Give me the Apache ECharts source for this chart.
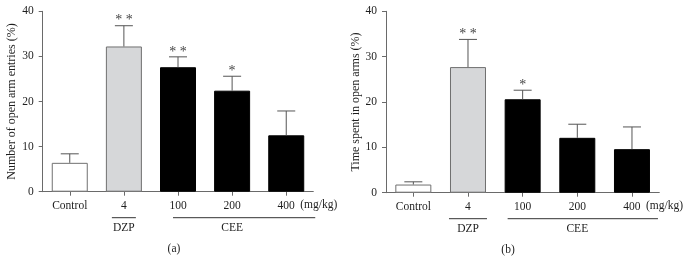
<!DOCTYPE html>
<html>
<head>
<meta charset="utf-8">
<script src="https://cdn.jsdelivr.net/npm/echarts@6/dist/echarts.min.js"></script>
<style>
  html, body { margin: 0; padding: 0; background: #fff; }
  #myChart { width: 687px; height: 258px; }
</style>
</head>
<body>
<div id="myChart"></div>
<script>
/*----------数据--------*/
var categories = ['Control', '4', '100', '200', '400'];
var yTicks = [0, 10, 20, 30, 40];
// (a) Number of open arm entries (%)
var entriesMean = [6.4, 32.2, 27.6, 22.4, 12.5];
var entriesErr = [2.0, 4.6, 2.3, 3.2, 5.4];
var entriesStars = ['', '**', '**', '*', ''];
// (b) Time spent in open arms (%)
var timeMean = [1.8, 27.7, 20.6, 12.1, 9.6];
var timeErr = [0.6, 6.1, 2.0, 3.0, 4.9];
var timeStars = ['', '**', '*', '', ''];
var barColors = ['#ffffff', '#d6d7d9', '#000000', '#000000', '#000000'];

var font = 'Liberation Serif';
var axisGray = '#6a6a6a';
var textColor = '#1e1e1e';

var myChart = echarts.init(document.getElementById('myChart'));

function barData(values) {
    return values.map(function (v, i) {
        return {
            value: v,
            itemStyle: {
                color: barColors[i],
                borderColor: i < 2 ? '#707070' : '#000',
                borderWidth: 1
            }
        };
    });
}

function errData(mean, err, stars) {
    return mean.map(function (m, i) {
        return [i, m, err[i], stars[i]];
    });
}

/* 误差线：只画上半部分，带横帽和星号 */
function renderErr(params, api) {
    var x = api.value(0);
    var m = api.value(1);
    var e = api.value(2);
    var idx = params.dataIndex;
    var base = api.coord([x, m]);
    var top = api.coord([x, m + e]);
    var stars = params.seriesIndex === 2 ? entriesStars : timeStars;
    var children = [
        { type: 'line', shape: { x1: base[0], y1: base[1], x2: top[0], y2: top[1] },
          style: { stroke: '#555', lineWidth: 1 } },
        { type: 'line', shape: { x1: top[0] - 9, y1: top[1], x2: top[0] + 9, y2: top[1] },
          style: { stroke: '#555', lineWidth: 1 } }
    ];
    if (stars[idx]) {
        children.push({
            type: 'text',
            style: {
                text: stars[idx].split('').join(' '),
                x: top[0], y: top[1] + 2,
                align: 'center', verticalAlign: 'bottom',
                font: '14px "' + font + '"', fill: '#444'
            }
        });
    }
    return { type: 'group', children: children };
}

function yAxisOpt(gridIndex, name) {
    return {
        gridIndex: gridIndex,
        type: 'value',
        min: 0, max: 40, interval: 10,
        name: name,
        nameLocation: 'middle',
        nameGap: 24,
        nameTextStyle: { fontFamily: font, fontSize: 12, color: textColor },
        axisLine: { show: true, lineStyle: { color: axisGray, width: 1 } },
        axisTick: { show: true, length: 4, lineStyle: { color: axisGray } },
        axisLabel: { fontFamily: font, fontSize: 11.5, color: textColor, margin: 9,
            formatter: function (v) { return yTicks.indexOf(v) >= 0 ? v : ''; } },
        splitLine: { show: false }
    };
}

function xAxisOpt(gridIndex) {
    return {
        gridIndex: gridIndex,
        type: 'category',
        data: categories,
        axisLine: { show: true, lineStyle: { color: axisGray, width: 1 } },
        axisTick: { show: true, alignWithLabel: true, length: 4, lineStyle: { color: axisGray } },
        axisLabel: { fontFamily: font, fontSize: 11.5, color: textColor, margin: 8 }
    };
}

myChart.setOption({
    animation: false,
    grid: [
        { left: 42.7, top: 11.3, width: 270.6, height: 180.4 },
        { left: 386, top: 11.3, width: 273.3, height: 181.4 }
    ],
    xAxis: [xAxisOpt(0), xAxisOpt(1)],
    yAxis: [
        yAxisOpt(0, 'Number of open arm entries (%)'),
        yAxisOpt(1, 'Time spent in open arms (%)')
    ],
    series: [
        { type: 'bar', xAxisIndex: 0, yAxisIndex: 0, barWidth: 36, data: barData(entriesMean) },
        { type: 'bar', xAxisIndex: 1, yAxisIndex: 1, barWidth: 36, data: barData(timeMean) },
        { type: 'custom', xAxisIndex: 0, yAxisIndex: 0, renderItem: renderErr,
          data: errData(entriesMean, entriesErr, entriesStars), z: 3 },
        { type: 'custom', xAxisIndex: 1, yAxisIndex: 1, renderItem: renderErr,
          data: errData(timeMean, timeErr, timeStars), z: 3 }
    ]
});

/* 分组标注：DZP / CEE / (mg/kg) / (a)(b)，位置由坐标轴换算 */
function groupGraphics(gridIndex, dzpHalf, ceeStart, ceeEnd, panelLabel, panelX) {
    var px = function (cat) {
        return myChart.convertToPixel({ xAxisIndex: gridIndex, yAxisIndex: gridIndex }, [cat, 0]);
    };
    var p4 = px('4'), p100 = px('100'), p400 = px('400');
    var lineY = p4[1] + 26;
    var txtY = lineY + 10;
    var st = { stroke: '#333', lineWidth: 1 };
    var ts = function (t, x, y) {
        return { type: 'text', style: { text: t, x: x, y: y, align: 'center', verticalAlign: 'middle',
            font: '11.5px "' + font + '"', fill: textColor } };
    };
    return [
        { type: 'line', shape: { x1: p4[0] - dzpHalf, y1: lineY, x2: p4[0] + dzpHalf, y2: lineY }, style: st },
        { type: 'line', shape: { x1: p100[0] + ceeStart, y1: lineY, x2: p400[0] + ceeEnd, y2: lineY }, style: st },
        ts('DZP', p4[0], txtY),
        ts('CEE', (p100[0] + p400[0]) / 2, txtY),
        { type: 'text', style: { text: '(mg/kg)', x: p400[0] + 14, y: p4[1] + 13.5, align: 'left',
            verticalAlign: 'middle', font: '11.5px "' + font + '"', fill: textColor } },
        ts(panelLabel, panelX, lineY + 31)
    ];
}

myChart.setOption({
    graphic: groupGraphics(0, 12, -5, 29, '(a)', 174)
        .concat(groupGraphics(1, 19, -15, 26, '(b)', 508))
});
</script>
</body>
</html>
